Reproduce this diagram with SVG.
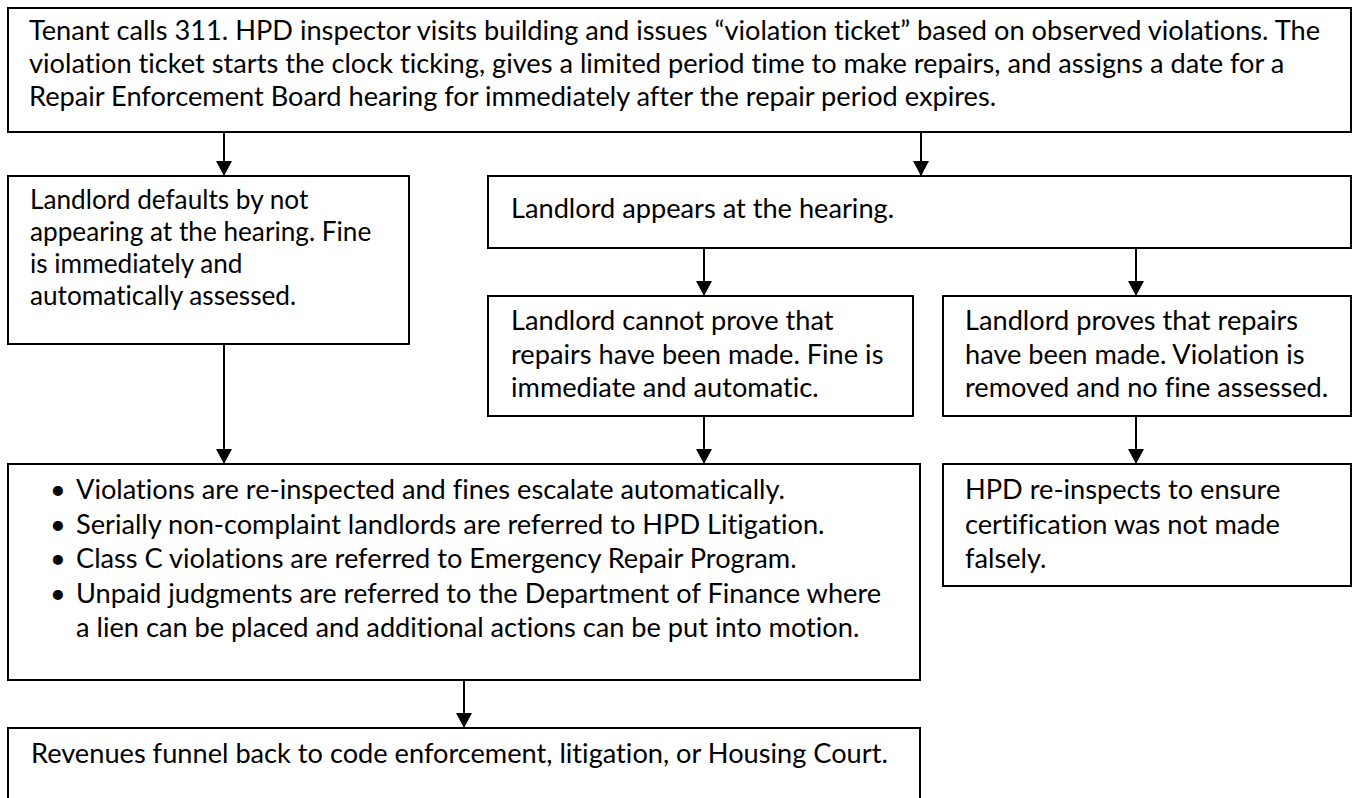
<svg xmlns="http://www.w3.org/2000/svg" width="1353" height="798" viewBox="0 0 1353 798">
<style>
.box{fill:#fff;stroke:#000;stroke-width:2}
.t{font-family:Lato,"Open Sans","Liberation Sans",sans-serif;font-size:27.2px;fill:#000;font-variant-ligatures:none;font-feature-settings:"liga" 0,"dlig" 0}
.s{font-size:26.2px}
.b{text-anchor:middle}
.c{stroke:#000;stroke-width:2;fill:none;marker-end:url(#ah)}
</style>
<defs>
<marker id="ah" markerUnits="userSpaceOnUse" markerWidth="16" markerHeight="16" refX="15" refY="8" orient="auto" viewBox="0 0 16 16">
<path d="M0,0 L15,8 L0,16 z" fill="#000"/>
</marker>
</defs>
<rect width="1353" height="798" fill="#fff"/>
<g id="connectors">
<line class="c" x1="224" y1="132" x2="224" y2="176"/>
<line class="c" x1="921" y1="132" x2="921" y2="176"/>
<line class="c" x1="704" y1="248" x2="704" y2="296"/>
<line class="c" x1="1136" y1="248" x2="1136" y2="296"/>
<line class="c" x1="224" y1="344" x2="224" y2="464"/>
<line class="c" x1="704" y1="416" x2="704" y2="464"/>
<line class="c" x1="1136" y1="416" x2="1136" y2="464"/>
<line class="c" x1="464" y1="680" x2="464" y2="728"/>
</g>
<g id="n-tenant">
<rect class="box" x="8" y="8" width="1343" height="124"/>
<text class="t"><tspan x="29" y="40">Tenant calls 311. HPD inspector visits building and issues “violation ticket” based on observed violations. The</tspan><tspan x="29" y="73">violation ticket starts the clock ticking, gives a limited period time to make repairs, and assigns a date for a</tspan><tspan x="29" y="106">Repair Enforcement Board hearing for immediately after the repair period expires.</tspan></text>
</g>
<g id="n-default">
<rect class="box" x="8" y="176" width="401" height="168"/>
<text class="t s"><tspan x="30" y="209">Landlord defaults by not</tspan><tspan x="30" y="241">appearing at the hearing. Fine</tspan><tspan x="30" y="273">is immediately and</tspan><tspan x="30" y="305">automatically assessed.</tspan></text>
</g>
<g id="n-appears">
<rect class="box" x="488" y="176" width="863" height="72"/>
<text class="t" x="511" y="218">Landlord appears at the hearing.</text>
</g>
<g id="n-cannot">
<rect class="box" x="488" y="296" width="425" height="120"/>
<text class="t"><tspan x="511" y="330">Landlord cannot prove that</tspan><tspan x="511" y="363.5">repairs have been made. Fine is</tspan><tspan x="511" y="397">immediate and automatic.</tspan></text>
</g>
<g id="n-proves">
<rect class="box" x="943" y="296" width="408" height="120"/>
<text class="t"><tspan x="965" y="330">Landlord proves that repairs</tspan><tspan x="965" y="363.5">have been made. Violation is</tspan><tspan x="965" y="397">removed and no fine assessed.</tspan></text>
</g>
<g id="n-consequences">
<rect class="box" x="8" y="464" width="912" height="216"/>
<text class="t"><tspan class="b" x="58" y="499">•</tspan><tspan x="76" y="499">Violations are re-inspected and fines escalate automatically.</tspan><tspan class="b" x="58" y="533.5">•</tspan><tspan x="76" y="533.5">Serially non-complaint landlords are referred to HPD Litigation.</tspan><tspan class="b" x="58" y="568">•</tspan><tspan x="76" y="568">Class C violations are referred to Emergency Repair Program.</tspan><tspan class="b" x="58" y="602.5">•</tspan><tspan x="76" y="602.5">Unpaid judgments are referred to the Department of Finance where</tspan><tspan x="76" y="637">a lien can be placed and additional actions can be put into motion.</tspan></text>
</g>
<g id="n-reinspect">
<rect class="box" x="943" y="464" width="408" height="122"/>
<text class="t"><tspan x="965" y="499">HPD re-inspects to ensure</tspan><tspan x="965" y="533.5">certification was not made</tspan><tspan x="965" y="568">falsely.</tspan></text>
</g>
<g id="n-revenues">
<rect class="box" x="8" y="728" width="912" height="100"/>
<text class="t" x="31" y="763">Revenues funnel back to code enforcement, litigation, or Housing Court.</text>
</g>
</svg>
